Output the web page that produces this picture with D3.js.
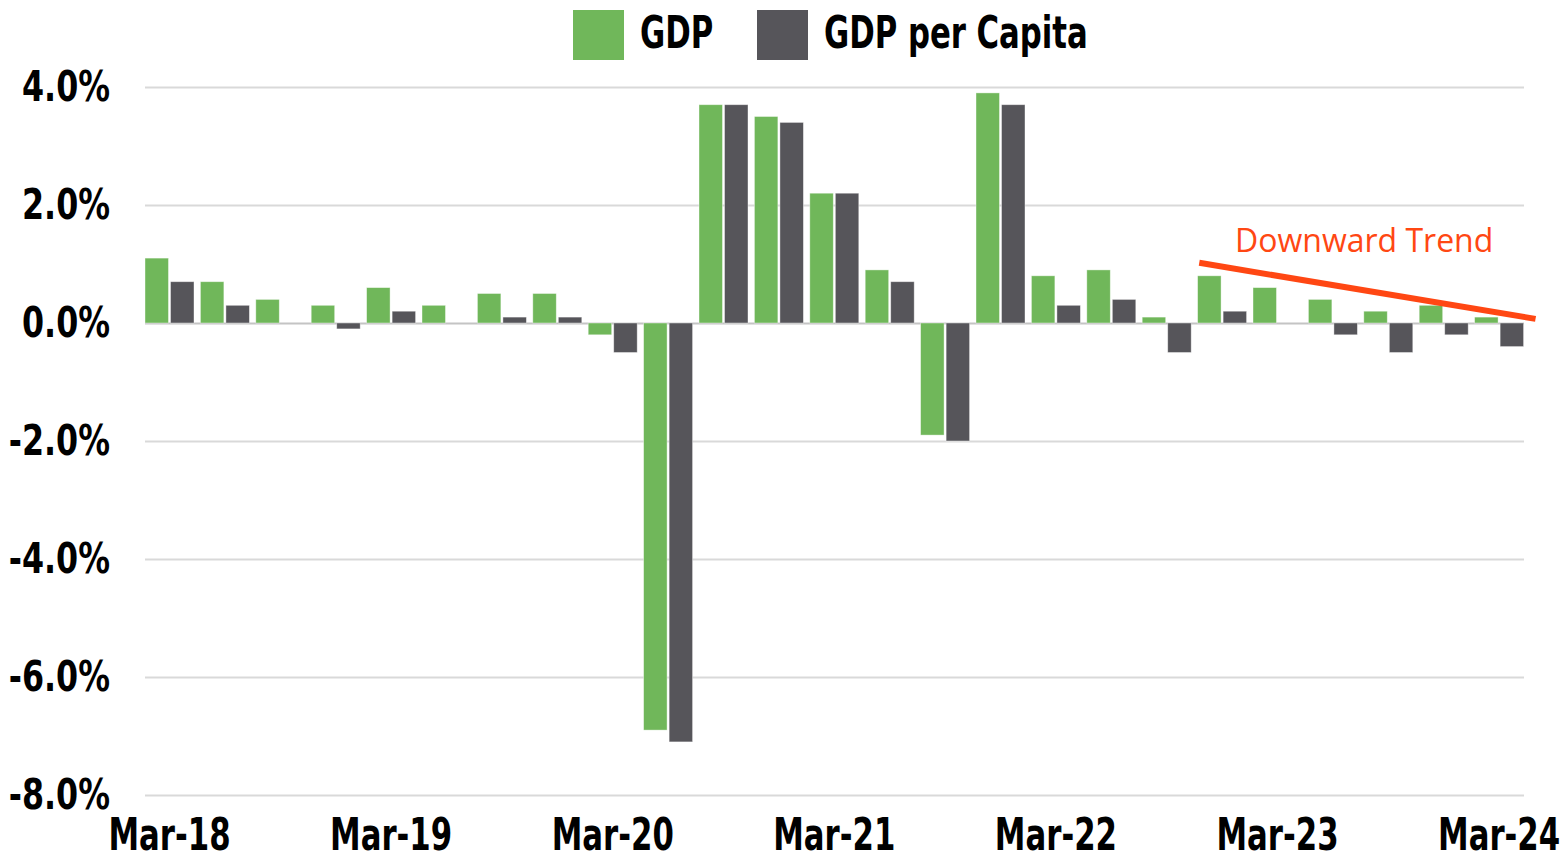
<!DOCTYPE html>
<html>
<head>
<meta charset="utf-8">
<script src="https://cdn.jsdelivr.net/npm/d3@7"></script>
<style>
  html, body { margin: 0; padding: 0; background: #fff; }
  svg { display: block; }
  .cond { font-family: "Liberation Sans Narrow", "Arial Narrow", "DejaVu Sans Condensed", sans-serif; font-weight: bold; }
</style>
</head>
<body>
<svg id="chart" width="1566" height="852"></svg>
<script>
// quarterly growth, Mar-18 .. Mar-24
const quarters = [
  "Mar-18","Jun-18","Sep-18","Dec-18",
  "Mar-19","Jun-19","Sep-19","Dec-19",
  "Mar-20","Jun-20","Sep-20","Dec-20",
  "Mar-21","Jun-21","Sep-21","Dec-21",
  "Mar-22","Jun-22","Sep-22","Dec-22",
  "Mar-23","Jun-23","Sep-23","Dec-23",
  "Mar-24"];
const gdp = [
  1.1, 0.7, 0.4, 0.3,
  0.6, 0.3, 0.5, 0.5,
  -0.2, -6.9, 3.7, 3.5,
  2.2, 0.9, -1.9, 3.9,
  0.8, 0.9, 0.1, 0.8,
  0.6, 0.4, 0.2, 0.3,
  0.1];
const gdpPerCapita = [
  0.7, 0.3, 0.0, -0.1,
  0.2, 0.0, 0.1, 0.1,
  -0.5, -7.1, 3.7, 3.4,
  2.2, 0.7, -2.0, 3.7,
  0.3, 0.4, -0.5, 0.2,
  0.0, -0.2, -0.5, -0.2,
  -0.4];
const yTicks = [4, 2, 0, -2, -4, -6, -8];
const xTickLabels = ["Mar-18","Mar-19","Mar-20","Mar-21","Mar-22","Mar-23","Mar-24"];
const seriesNames = ["GDP", "GDP per Capita"];
const seriesColors = ["#70b75a", "#56555a"];
// trend annotation: quarter index position and value (%)
const trendLine = [{q: 19.03, v: 1.02}, {q: 25.1, v: 0.07}];
const trendLabel = "Downward Trend";

var svg = d3.select("#chart");
var mLeft = 145, mRight = 1524, mTop = 87, mBottom = 795;
var step = 55.4;

var y = d3.scaleLinear().domain([-8, 4]).range([mBottom, mTop]);
var x0 = d3.scaleBand().domain(quarters).range([mLeft, mLeft + step * quarters.length]).padding(0);
var bw = x0.bandwidth();
var pairW = 49;
var x1 = d3.scaleBand().domain(seriesNames).range([0, pairW]).paddingInner(0.08);
var xq = d3.scaleLinear().domain([0, quarters.length]).range(x0.range());

// squeeze bold text horizontally to get the condensed look
function condense(sel, f) {
  sel.each(function () {
    var w = this.getComputedTextLength();
    d3.select(this)
      .attr("textLength", w * f)
      .attr("lengthAdjust", "spacingAndGlyphs");
  });
}

// gridlines + y labels
var yAx = svg.append("g")
    .attr("transform", "translate(" + mLeft + ",0)")
    .call(d3.axisLeft(y)
          .tickValues(yTicks)
          .tickSize(-(mRight - mLeft))
          .tickPadding(35)
          .tickFormat(d => d.toFixed(1) + "%"));
yAx.select(".domain").remove();
yAx.selectAll(".tick line").attr("stroke", "#d9d9d9").attr("stroke-width", 2);
yAx.selectAll(".tick line").filter(d => d === 0).attr("stroke", "#c4c4c4");
yAx.selectAll(".tick text")
    .attr("class", "cond")
    .attr("fill", "#000")
    .style("font-size", "42px")
    .call(condense, 0.84);

// bars
var rows = quarters.map((q, i) => ({q: q, vals: [gdp[i], gdpPerCapita[i]]}));
var grp = svg.append("g").selectAll("g")
    .data(rows)
    .join("g")
    .attr("transform", d => "translate(" + x0(d.q) + ",0)");
grp.selectAll("rect")
    .data(d => d.vals.map((v, k) => ({k: k, v: v})))
    .join("rect")
    .attr("x", d => x1(seriesNames[d.k]))
    .attr("width", x1.bandwidth())
    .attr("y", d => y(Math.max(0, d.v)))
    .attr("height", d => Math.abs(y(d.v) - y(0)))
    .attr("fill", d => seriesColors[d.k])
    .attr("stroke", "#ffffff")
    .attr("stroke-opacity", 0.5)
    .attr("stroke-width", 0.8);

// x labels
var xAx = svg.append("g")
    .attr("transform", "translate(0," + mBottom + ")")
    .call(d3.axisBottom(x0)
          .tickValues(xTickLabels)
          .tickSize(0)
          .tickPadding(23));
xAx.select(".domain").remove();
xAx.selectAll(".tick text")
    .attr("class", "cond")
    .attr("fill", "#000")
    .attr("dx", -(bw / 2 - pairW / 2))
    .style("font-size", "45px")
    .call(condense, 0.76);

// legend
var leg = svg.append("g");
var legX = [573, 757];
seriesNames.forEach((name, k) => {
  leg.append("rect")
      .attr("x", legX[k]).attr("y", 10)
      .attr("width", 51).attr("height", 50)
      .attr("fill", seriesColors[k]);
  leg.append("text")
      .attr("class", "cond")
      .attr("x", legX[k] + 67).attr("y", 48)
      .style("font-size", "44px")
      .attr("fill", "#000")
      .text(name)
      .call(condense, 0.776);
});

// trend annotation
svg.append("line")
    .attr("x1", xq(trendLine[0].q)).attr("y1", y(trendLine[0].v))
    .attr("x2", xq(trendLine[1].q)).attr("y2", y(trendLine[1].v))
    .attr("stroke", "#ff4713")
    .attr("stroke-width", 6);
svg.append("text")
    .attr("x", 1235).attr("y", 252)
    .style("font-family", "'Open Sans', 'Noto Sans', sans-serif")
    .style("font-size", "32px")
    .attr("fill", "#ff4713")
    .text(trendLabel);
</script>
</body>
</html>
